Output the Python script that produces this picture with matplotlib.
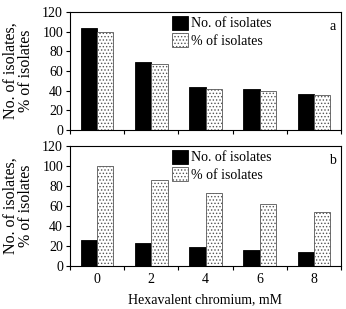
import numpy as np
import matplotlib.pyplot as plt

plt.rcParams['font.family'] = ['Liberation Serif', 'DejaVu Serif']
plt.rcParams['hatch.linewidth'] = 0.6

# ---------------------------------------------------------------------------
categories = ['0', '2', '4', '6', '8']
count_a = [104, 69, 44, 42, 37]
pct_a   = [100, 67, 42, 40, 36]
count_b = [26, 23, 19, 16, 14]
pct_b   = [100, 86, 73, 62, 54]
# ---------------------------------------------------------------------------

fig = plt.figure(figsize=(3.46, 3.09), dpi=100)
ax_a = fig.add_axes([70/346, 1 - 130/309, 271/346, 118/309])
ax_b = fig.add_axes([70/346, 1 - 266/309, 271/346, 120/309])

x = np.arange(len(categories))
w = 0.3

for ax, cnt, pct, tag in ((ax_a, count_a, pct_a, 'a'), (ax_b, count_b, pct_b, 'b')):
    ax.bar(x - w/2, cnt, w, color='black', edgecolor='black', lw=0.6,
           label='No. of isolates')
    ax.bar(x + w/2, pct, w, color='white', edgecolor='#555555', hatch='.....',
           lw=0.6, label='% of isolates')
    ax.set_xlim(-0.5, len(categories) - 0.5)
    ax.set_ylim(0, 120)
    ax.set_yticks(range(0, 121, 20))
    ax.tick_params(labelsize=10, length=3, width=0.8, pad=2)
    ax.set_xticks(np.arange(len(categories) + 1) - 0.5)
    ax.set_xticklabels([])
    for s in ax.spines.values():
        s.set_linewidth(0.8)
    ax.set_ylabel('No. of isolates,\n% of isolates', fontsize=11.5, labelpad=6,
                  linespacing=0.95)
    ax.text(0.98, 0.93, tag, transform=ax.transAxes, ha='right', va='top',
            fontsize=10)
    ax.legend(loc='upper left', bbox_to_anchor=(0.345, 1.04), frameon=False,
              fontsize=10, handlelength=1.2, handleheight=1.2,
              handletextpad=0.15, labelspacing=0.2, borderaxespad=0.2)

ax_b.set_xticks(x, minor=True)
ax_b.set_xticklabels(categories, minor=True)
ax_b.tick_params(axis='x', which='minor', length=0, labelsize=10, pad=5)
ax_b.set_xlabel('Hexavalent chromium, mM', fontsize=10, labelpad=5)

fig.savefig('out.png', dpi=100)
